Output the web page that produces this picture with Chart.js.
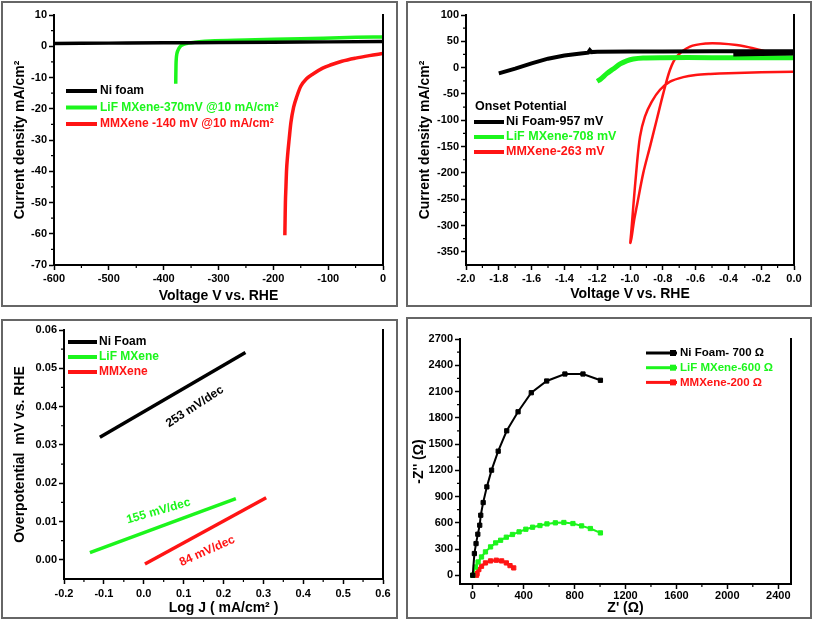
<!DOCTYPE html>
<html>
<head>
<meta charset="utf-8">
<script src="https://cdn.jsdelivr.net/npm/chart.js@4.4.0/dist/chart.umd.min.js"></script>
<style>
body{margin:0;background:#fff;width:813px;height:621px;position:relative;overflow:hidden}
.panel{position:absolute;border:2px solid #666;box-sizing:border-box}
.panel canvas{display:block}
</style>
</head>
<body>
<div class="panel" style="left:1px;top:1px;width:397px;height:306px"><canvas id="lsv" width="393" height="302"></canvas></div>
<div class="panel" style="left:406px;top:1px;width:406px;height:306px"><canvas id="cv" width="402" height="302"></canvas></div>
<div class="panel" style="left:1px;top:319px;width:397px;height:300px"><canvas id="tafel" width="393" height="296"></canvas></div>
<div class="panel" style="left:406px;top:317px;width:406px;height:302px"><canvas id="eis" width="402" height="298"></canvas></div>
<script>
/* colours */
const BLACK = '#000000'
const GREEN = '#1cf51c'
const RED = '#ff1414'

/* LSV (top left) : potential in mV, current density mA/cm2 */
const lsvNiV = [-600, -500, -400, -300, -200, -100, 0]
const lsvNiJ = [0.9, 1.0, 1.1, 1.2, 1.3, 1.4, 1.5]
const lsvLifV = [-378, -377.8, -377.5, -377, -376, -374, -370, -365, -358, -350, -335, -315, -250, -150, -50, 0]
const lsvLifJ = [-12, -9, -6, -4, -2.5, -1.3, -0.1, 0.5, 0.9, 1.15, 1.45, 1.7, 2.0, 2.4, 2.85, 3.0]
const lsvMmxV = [-179, -178.5, -178, -177, -176, -174, -171, -168, -163, -157, -150, -140, -127, -110, -96, -75, -50, -25, 0]
const lsvMmxJ = [-60.5, -55, -50, -45, -40, -35, -29.5, -24.5, -19.5, -16, -12.8, -10.5, -8.8, -7, -6, -4.8, -3.8, -3, -2.3]

/* CV (top right) : potential in V */
const cvNiV = [-1.8, -1.7, -1.6, -1.5, -1.4, -1.3, -1.255, -1.245, -1.235, -1.2, -1.0, -0.8, -0.5, -0.2, 0, 0, -0.2, -0.37]
const cvNiJ = [-11, -2, 8, 17, 23, 27, 28.5, 33, 29.5, 30, 30.5, 30.5, 31, 31, 31, 27, 26, 25]
const cvLifV = [-1.2, -1.18, -1.14, -1.1, -1.06, -1.02, -0.98, -0.92, -0.8, -0.5, 0]
const cvLifJ = [-26, -22, -11, -2, 7, 13, 16.5, 18.5, 19, 19, 19]
const cvMmxV = [0, -0.2, -0.4, -0.51, -0.6, -0.675, -0.756, -0.817, -0.868, -0.909, -0.939, -0.959, -0.98, -0.993, -0.998, -0.99, -0.975, -0.959, -0.919, -0.878, -0.837, -0.797, -0.756, -0.715, -0.634, -0.532, -0.45, -0.35, -0.25, -0.15, -0.05]
const cvMmxJ = [-8, -9, -10.5, -12, -14, -18, -26.6, -42, -65, -93, -131, -188, -264, -315, -333, -322, -290, -264, -200, -150, -99, -49, -4, 21, 40, 46, 46, 43, 37, 29, 26]

/* Tafel (bottom left) */
const tafelNiX = [-0.11, 0.255]
const tafelNiY = [0.032, 0.0541]
const tafelLifX = [-0.135, 0.231]
const tafelLifY = [0.0019, 0.016]
const tafelMmxX = [0.003, 0.307]
const tafelMmxY = [-0.0011, 0.0162]
const tafelNotes = [
	{ text: '253 mV/dec', x: 0.128, y: 0.040, angle: -33, color: BLACK },
	{ text: '155 mV/dec', x: 0.037, y: 0.0127, angle: -16, color: GREEN },
	{ text: '84 mV/dec', x: 0.159, y: 0.0023, angle: -24, color: RED }
]

/* Nyquist (bottom right) : Z' and -Z'' in ohm */
const eisNiRe = [0, 13, 26, 40, 55, 63, 82, 111, 148, 200, 267, 356, 460, 581, 724, 866, 1003]
const eisNiIm = [0, 248, 362, 469, 572, 686, 831, 1010, 1201, 1418, 1651, 1868, 2086, 2220, 2300, 2300, 2228]
const eisLifRe = [0, 21, 42, 69, 100, 140, 180, 219, 264, 312, 364, 417, 470, 528, 583, 649, 716, 787, 855, 924, 1003]
const eisLifIm = [0, 95, 152, 209, 267, 324, 370, 400, 435, 466, 496, 526, 549, 568, 587, 599, 603, 591, 564, 534, 484]
const eisMmxRe = [30, 34, 48, 69, 100, 140, 185, 227, 264, 293, 322]
const eisMmxIm = [0, 19, 65, 103, 141, 164, 172, 164, 141, 110, 84]

Chart.defaults.font.family = "'Liberation Sans', Arial, sans-serif"
Chart.defaults.font.weight = 'bold'
Chart.defaults.color = '#000'

const pts = (xs, ys) => xs.map((x, i) => ({ x, y: ys[i] }))
const num = (d) => (v) => (d === 0 ? String(v) : Number(v).toFixed(d))

// right frame line + minor ticks
const frame = {
	id: 'frame',
	afterDraw(chart) {
		const { ctx, chartArea: a, scales } = chart
		ctx.save()
		ctx.strokeStyle = '#000'
		ctx.lineWidth = 2
		ctx.beginPath()
		ctx.moveTo(a.right, a.top - 1)
		ctx.lineTo(a.right, a.bottom + 1)
		ctx.stroke()
		ctx.lineWidth = 1.2
		ctx.beginPath()
		const sx = scales.x
		const sy = scales.y
		for (let i = 0; i < sx.ticks.length - 1; i++) {
			const m = sx.getPixelForValue((sx.ticks[i].value + sx.ticks[i + 1].value) / 2)
			ctx.moveTo(m, a.bottom)
			ctx.lineTo(m, a.bottom + 3)
		}
		for (let i = 0; i < sy.ticks.length - 1; i++) {
			const m = sy.getPixelForValue((sy.ticks[i].value + sy.ticks[i + 1].value) / 2)
			ctx.moveTo(a.left, m)
			ctx.lineTo(a.left - 3, m)
		}
		ctx.stroke()
		ctx.restore()
	}
}

// legend drawn inside the plot
const insideLegend = {
	id: 'insideLegend',
	afterDraw(chart, args, o) {
		const ctx = chart.ctx
		ctx.save()
		ctx.font = `bold ${o.size}px 'Liberation Sans', Arial, sans-serif`
		ctx.textBaseline = 'middle'
		let y = o.y
		if (o.title) {
			ctx.fillStyle = '#000'
			ctx.fillText(o.title, o.titleX, y)
			y += o.gap
		}
		chart.data.datasets.forEach((ds) => {
			ctx.strokeStyle = ds.borderColor
			ctx.lineWidth = o.lineWidth
			ctx.beginPath()
			ctx.moveTo(o.x, y)
			ctx.lineTo(o.x + o.len, y)
			ctx.stroke()
			ctx.fillStyle = ds.borderColor
			if (o.marker) ctx.fillRect(o.x + o.len - 7, y - 3, 6, 6)
			ctx.fillText(ds.label, o.x + o.len + o.textGap, y)
			y += o.gap
		})
		ctx.restore()
	}
}

const slopeNotes = {
	id: 'slopeNotes',
	afterDatasetsDraw(chart) {
		const { ctx, scales } = chart
		tafelNotes.forEach((t) => {
			ctx.save()
			ctx.translate(scales.x.getPixelForValue(t.x), scales.y.getPixelForValue(t.y))
			ctx.rotate((t.angle * Math.PI) / 180)
			ctx.font = "bold 12px 'Liberation Sans', Arial, sans-serif"
			ctx.fillStyle = t.color
			ctx.textAlign = 'center'
			ctx.textBaseline = 'middle'
			ctx.fillText(t.text, 0, 0)
			ctx.restore()
		})
	}
}

function axis(min, max, step, title, fmt, o) {
	return {
		type: 'linear',
		min,
		max,
		ticks: {
			stepSize: step,
			includeBounds: false,
			padding: o.pad,
			callback: fmt,
			autoSkip: false,
			maxRotation: 0,
			color: '#000',
			font: { size: o.tick || 11, weight: 'bold' }
		},
		grid: { drawOnChartArea: false, drawTicks: true, tickLength: 5, tickColor: '#000', tickWidth: 1.5 },
		border: { display: true, color: '#000', width: 2 },
		title: { display: true, text: title, color: '#000', font: { size: 14, weight: 'bold' }, padding: o.tpad },
		afterFit: (s) => {
			if (s.isHorizontal()) s.height = o.size
			else s.width = o.size
		}
	}
}

function line(label, color, data, width, extra) {
	return Object.assign({ label, data, borderColor: color, backgroundColor: color, borderWidth: width, showLine: true, pointRadius: 0, tension: 0 }, extra || {})
}

function base(padding, legend, scales) {
	return {
		responsive: false,
		animation: false,
		devicePixelRatio: 1,
		layout: { padding },
		plugins: { legend: { display: false }, tooltip: { enabled: false }, insideLegend: legend },
		scales
	}
}

new Chart('lsv', {
	type: 'scatter',
	data: {
		datasets: [
			line('Ni foam', BLACK, pts(lsvNiV, lsvNiJ), 3.5, { cubicInterpolationMode: 'monotone' }),
			line('LiF MXene-370mV @10 mA/cm\u00b2', GREEN, pts(lsvLifV, lsvLifJ), 3.5, { cubicInterpolationMode: 'monotone' }),
			line('MMXene -140 mV @10 mA/cm\u00b2', RED, pts(lsvMmxV, lsvMmxJ), 3.5, { cubicInterpolationMode: 'monotone' })
		]
	},
	options: base(
		{ left: 0, top: 12, right: 13, bottom: 0 },
		{ x: 63, y: 88, len: 31, textGap: 3, gap: 16.5, lineWidth: 4, size: 12 },
		{
			x: axis(-600, 0, 100, 'Voltage V vs. RHE', num(0), { pad: 2, size: 40, tpad: { top: 0, bottom: 0 } }),
			y: axis(-70, 10, 10, 'Current density mA/cm\u00b2', num(0), { pad: 2, size: 51, tpad: { top: 9, bottom: 0 } })
		}
	),
	plugins: [frame, insideLegend]
})

new Chart('cv', {
	type: 'scatter',
	data: {
		datasets: [
			line('Ni Foam-957 mV', BLACK, pts(cvNiV, cvNiJ), 4),
			line('LiF MXene-708 mV', GREEN, pts(cvLifV, cvLifJ), 5, { tension: 0.3 }),
			line('MMXene-263 mV', RED, pts(cvMmxV, cvMmxJ), 2.5, { tension: 0.3 })
		]
	},
	options: base(
		{ left: 0, top: 12, right: 16, bottom: 0 },
		{ x: 66, y: 104, title: 'Onset Potential', titleX: 67, len: 30, textGap: 2, gap: 15, lineWidth: 4, size: 12.5 },
		{
			x: axis(-2, 0, 0.2, 'Voltage V vs. RHE', num(1), { pad: 2, size: 40, tpad: { top: 0, bottom: 2 } }),
			y: axis(-375, 100, 50, 'Current density mA/cm\u00b2', num(0), { pad: 2, size: 58, tpad: { top: 9, bottom: 0 } })
		}
	),
	plugins: [frame, insideLegend]
})

new Chart('tafel', {
	type: 'scatter',
	data: {
		datasets: [
			line('Ni Foam', BLACK, pts(tafelNiX, tafelNiY), 3.5),
			line('LiF MXene', GREEN, pts(tafelLifX, tafelLifY), 3.5),
			line('MMXene', RED, pts(tafelMmxX, tafelMmxY), 3.5)
		]
	},
	options: base(
		{ left: 0, top: 9, right: 13, bottom: 0 },
		{ x: 65, y: 21, len: 29, textGap: 2, gap: 15, lineWidth: 4, size: 12 },
		{
			x: axis(-0.2, 0.6, 0.1, 'Log J ( mA/cm\u00b2 )', num(1), { pad: 3, size: 38, tpad: { top: 0, bottom: 0 } }),
			y: axis(-0.005, 0.06, 0.01, 'Overpotential  mV vs. RHE', num(2), { pad: 2, size: 61, tpad: { top: 9, bottom: 0 } })
		}
	),
	plugins: [frame, insideLegend, slopeNotes]
})

const marker = { pointRadius: 3, pointStyle: 'rect', pointBorderWidth: 1 }
new Chart('eis', {
	type: 'scatter',
	data: {
		datasets: [
			line('Ni Foam- 700 \u03a9', BLACK, pts(eisNiRe, eisNiIm), 2, marker),
			line('LiF MXene-600 \u03a9', GREEN, pts(eisLifRe, eisLifIm), 2, marker),
			line('MMXene-200 \u03a9', RED, pts(eisMmxRe, eisMmxIm), 2.5, marker)
		]
	},
	options: base(
		{ left: 0, top: 20, right: 19, bottom: 0 },
		{ x: 238, y: 34, len: 31, textGap: 3, gap: 14.7, lineWidth: 3, size: 11.5, marker: true },
		{
			x: axis(-100, 2500, 400, "Z' (\u03a9)", num(0), { pad: 0, size: 33, tpad: { top: 0, bottom: 0 } }),
			y: axis(-100, 2700, 300, "-Z'' (\u03a9)", num(0), { pad: 2, size: 52, tpad: { top: 3, bottom: 0 } })
		}
	),
	plugins: [frame, insideLegend]
})
</script>
</body>
</html>
